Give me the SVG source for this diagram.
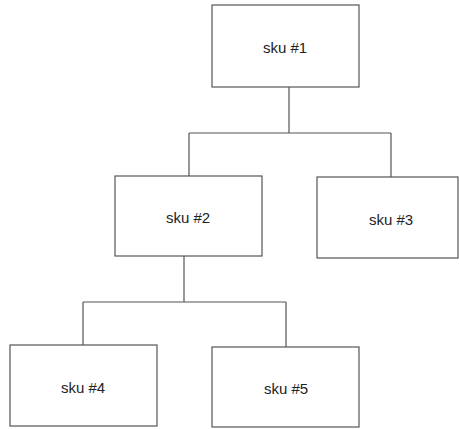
<svg xmlns="http://www.w3.org/2000/svg" width="459" height="429" viewBox="0 0 459 429">
<style>
.box{fill:#fff;stroke:#555;stroke-width:1.2}
.lbl{font-family:"Liberation Sans",Arial,sans-serif;font-size:15px;fill:#222;text-anchor:middle;dominant-baseline:central}
.con{fill:none;stroke:#555;stroke-width:1.2}
</style>
<rect width="459" height="429" fill="#fff"/>
<g id="connectors">
<path class="con" d="M289 87V133M189 133H391M189 133V176M391 133V177"/>
<path class="con" d="M184 256V302M83 302H286M83 302V345M286 302V347"/>
</g>
<g id="sku1"><rect class="box" x="212" y="5" width="147" height="82"/><text class="lbl" x="285" y="47">sku #1</text></g>
<g id="sku2"><rect class="box" x="115" y="176" width="147" height="80"/><text class="lbl" x="188" y="217">sku #2</text></g>
<g id="sku3"><rect class="box" x="317" y="177" width="141" height="81"/><text class="lbl" x="391" y="219">sku #3</text></g>
<g id="sku4"><rect class="box" x="10" y="345" width="147" height="81"/><text class="lbl" x="83" y="387">sku #4</text></g>
<g id="sku5"><rect class="box" x="212" y="347" width="147" height="80"/><text class="lbl" x="286" y="388">sku #5</text></g>
</svg>
